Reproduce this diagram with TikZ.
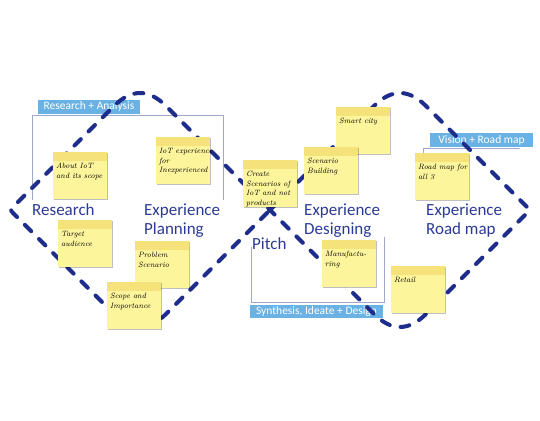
\documentclass[tikz,border=0pt]{standalone}
\usepackage{fontspec}
\setsansfont{Carlito}
\usetikzlibrary{shadows}
\definecolor{navy}{HTML}{1E2D8C}
\definecolor{tblue}{HTML}{2B3A98}
\definecolor{lblue}{HTML}{6AB2E3}
\definecolor{brk}{HTML}{A0A8D0}
\definecolor{notebody}{HTML}{FDF59C}
\definecolor{noteband}{HTML}{F6E27A}
\newcommand\sticky[4]{%
  \node[note] (#1) at (#2,#3) {};
  \node[ntext] (#1t) at ([xshift=3pt,yshift=-11pt]#1.north west) {#4};}
\begin{document}
\begin{tikzpicture}[x=1pt,y=-1pt,
  note/.style={draw=none, fill=notebody, minimum width=54pt, minimum height=47pt,
    inner sep=0pt, anchor=north west,
    drop shadow={shadow xshift=0.7pt, shadow yshift=-0.9pt, opacity=0.25, fill=black},
    path picture={\fill[noteband] (path picture bounding box.north west) rectangle ([yshift=-9pt]path picture bounding box.north east);}},
  ntext/.style={anchor=north west, inner sep=0pt, align=left, text=black,
    font=\itshape\fontsize{7.7}{9.6}\selectfont},
  bigt/.style={anchor=base west, inner sep=0pt, text=tblue, font=\sffamily\fontsize{17}{20}\selectfont},
  lbl/.style={fill=lblue, text=white, inner sep=1pt, minimum height=14pt,
    font=\sffamily\fontsize{11.5}{13}\selectfont},
  bracket/.style={draw=brk, line width=0.8pt},
  loop8/.style={draw=navy, line width=4pt, line cap=round, line join=round,
    dash pattern=on 9pt off 11pt}
]
\useasboundingbox (0,0) rectangle (540,420);

% brackets
\draw[bracket] (32,200) -- (32,115) -- (223,115) -- (223,200);
\draw[bracket] (251,247) -- (251,302) -- (384,302) -- (384,237);
\draw[bracket] (423,175) -- (423,148) -- (520,148);

% labels
\node[lbl, minimum width=102pt] (ra) at (89,106.5) {Research + Analysis};
\node[lbl, minimum width=103pt] (vr) at (481.5,140) {Vision + Road map};
\node[lbl, minimum width=133pt, minimum height=13pt] (sd) at (316.5,311.5) {Synthesis, Ideate + Design};

% figure-eight dashed loop
\draw[loop8] (270,210) -- (374,106)
  .. controls (391.3,88.7) and (408.7,88.7) .. (426,106)
  -- (526,206) .. controls (530,210) .. (526,214)
  -- (426,314) .. controls (408.7,331.3) and (391.3,331.3) .. (374,314)
  -- (270,210) -- (166,106)
  .. controls (148.7,88.7) and (131.3,88.7) .. (114,106)
  -- (14,206) .. controls (10,210) .. (14,214)
  -- (114,314) .. controls (131.3,331.3) and (148.7,331.3) .. (166,314)
  -- cycle;

% sticky notes
\sticky{n1}{53}{152}{About IoT\\and its scope}
\sticky{n2}{156}{137}{IoT experience\\for\\Inexperienced}
\sticky{n3}{58}{220}{Target\\audience}
\sticky{n4}{135}{241}{Problem\\Scenario}
\sticky{n5}{107}{282}{Scope and\\Importance}
\sticky{n6}{243}{160}{Create\\Scenarios of\\IoT and not\\products}
\sticky{n8}{336}{107}{Smart city}
\sticky{n7}{304}{147}{Scenario\\Building}
\sticky{n9}{415}{153}{Road map for\\all 3}
\sticky{n10}{322}{240}{Manufactu-\\ring}
\sticky{n11}{391}{266}{Retail}

% big labels
\node[bigt] (res) at (32,215) {Research};
\node[bigt] (ep1) at (144,215) {Experience};
\node[bigt] (ep2) at (144,234) {Planning};
\node[bigt] (pit) at (252,249) {Pitch};
\node[bigt] (ed1) at (304,215) {Experience};
\node[bigt] (ed2) at (304,234) {Designing};
\node[bigt] (er1) at (426,215) {Experience};
\node[bigt] (er2) at (426,234) {Road map};
\end{tikzpicture}
\end{document}
